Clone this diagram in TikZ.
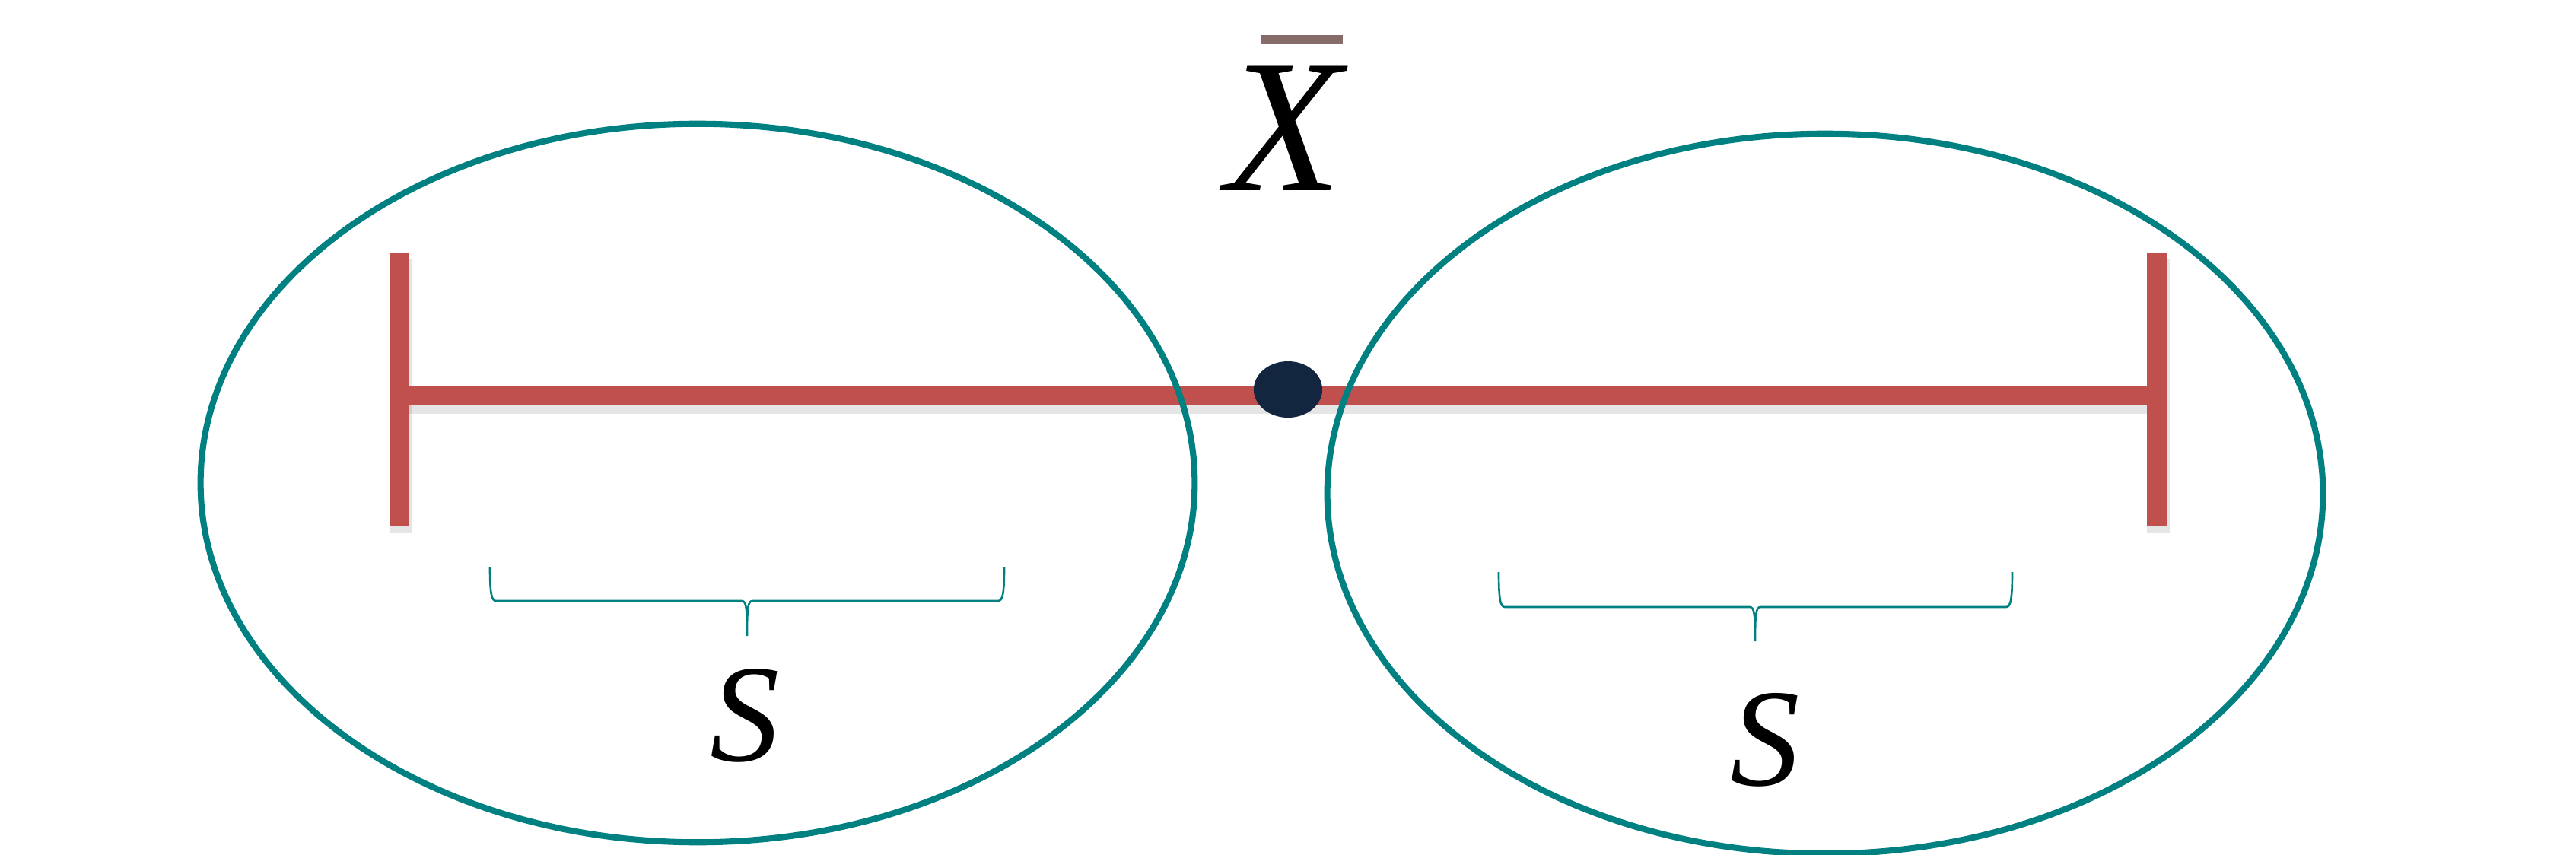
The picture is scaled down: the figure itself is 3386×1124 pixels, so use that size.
\documentclass[tikz,border=0pt]{standalone}
\usepackage{fontspec}
\setmainfont{Liberation Serif}
\usetikzlibrary{shapes.geometric}
\definecolor{barred}{HTML}{C0504D}
\definecolor{ringteal}{HTML}{008080}
\definecolor{meannavy}{HTML}{12263F}
\definecolor{bartaupe}{HTML}{866B6B}

\begin{document}
\begin{tikzpicture}[x=0.01cm,y=-0.01cm,every node/.style={inner sep=0pt},
  bar/.style={barred,line width=7.6pt},
  barshadow/.style={black,opacity=.1,line width=8.6pt},
  ring/.style={ringteal,line width=2.3pt},
  sbrace/.style={ringteal,line width=.75pt},
  meandot/.style={ellipse,fill=meannavy,minimum width=0.9cm,minimum height=0.74cm},
  letter/.style={anchor=base,font=\fontsize{52}{60}\selectfont\itshape}]
\useasboundingbox (0,0) rectangle (3386,1124);
\coordinate (l0) at (525,332);
\coordinate (l1) at (525,692);
\coordinate (r0) at (2835,332);
\coordinate (r1) at (2835,692);
\coordinate (lend) at (525,520);
\coordinate (rend) at (2835,520);
% shadow under the bars
\draw[barshadow] ([xshift=.5pt,yshift=-2.5pt]l0)--([xshift=.5pt,yshift=-2.5pt]l1);
\draw[barshadow] ([xshift=.5pt,yshift=-2.5pt]r0)--([xshift=.5pt,yshift=-2.5pt]r1);
\draw[barshadow] ([yshift=-2.5pt]lend)--([yshift=-2.5pt]rend);
\draw[bar] (l0)--(l1);
\draw[bar] (r0)--(r1);
\draw[bar] (lend)--(rend);
\draw[ring] (917,635) ellipse (6.53cm and 4.72cm);
\draw[ring] (2399,649) ellipse (6.54cm and 4.73cm);
\node[meandot] (mean) at (1693,512) {};
% mean label
\node[anchor=base,font=\fontsize{71}{80}\selectfont\itshape] (xbar) at (1688,250) {X};
\fill[bartaupe] (1658,46) rectangle (1765,58);
% braces
\draw[sbrace] (644,745) .. controls (644,780) and (646,790) .. (652,790) -- (975,790)
  .. controls (981,790) and (982,800) .. (982,836) .. controls (982,800) and (983,790) .. (989,790)
  -- (1312,790) .. controls (1318,790) and (1320,780) .. (1320,745);
\draw[sbrace] (1970,752) .. controls (1970,787) and (1972,798) .. (1978,798) -- (2300,798)
  .. controls (2306,798) and (2307,808) .. (2307,843) .. controls (2307,808) and (2308,798) .. (2314,798)
  -- (2637,798) .. controls (2643,798) and (2645,787) .. (2645,752);
\node[letter] (sl) at (979,1000) {S};
\node[letter] (sr) at (2320,1032) {S};
\end{tikzpicture}
\end{document}
